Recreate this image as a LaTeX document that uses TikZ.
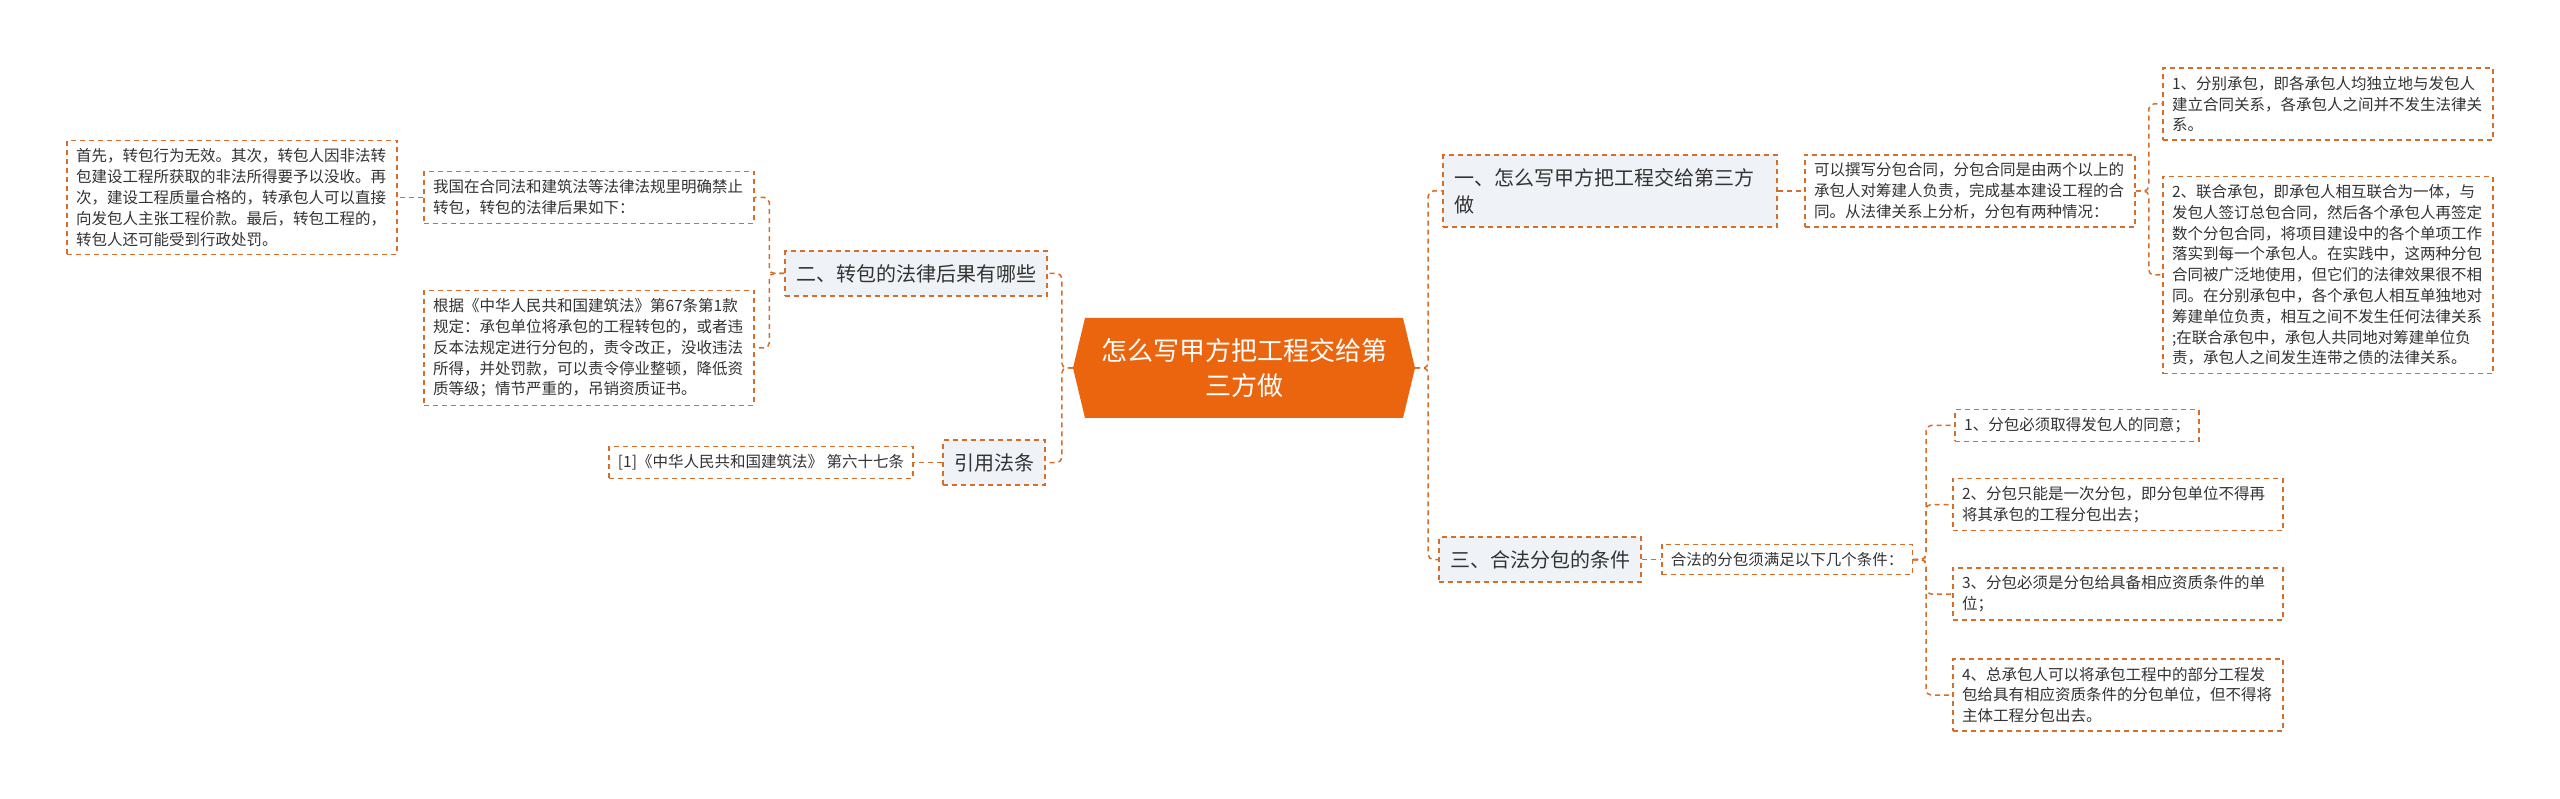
\documentclass[tikz,border=0pt]{standalone}
\usepackage{fontspec}
\setmainfont{Noto Sans CJK SC}
\definecolor{linea}{RGB}{213,110,43}
\definecolor{naranja}{RGB}{235,100,14}
\definecolor{gris}{RGB}{239,242,246}
\definecolor{texto}{RGB}{51,51,51}
\begin{document}
\begin{tikzpicture}[x=1pt,y=-1pt,
        hoja/.style={draw=linea, fill=white, line width=1.5pt, dash pattern=on 5pt off 4pt,
            inner xsep=9pt, inner ysep=8pt, align=left, text=texto,
            font=\fontsize{15.5}{20.8}\selectfont},
        hojaw/.style={hoja, text width=312pt},
        rama/.style={draw=linea, fill=gris, line width=1.5pt, dash pattern=on 5pt off 4pt,
            inner xsep=11pt, inner ysep=13pt, align=left, text=texto,
            font=\fontsize{20}{27}\selectfont},
        enlace/.style={draw=linea, line width=1.5pt, dash pattern=on 5pt off 4pt, rounded corners=5pt}]
        % Fondo
        \fill[white] (0,0) rectangle (2560,799);
        \useasboundingbox (0,0) rectangle (2560,799);
        % Nodo central
        \fill[naranja] (1073,368) -- (1085,318) -- (1403,318) -- (1415,368) -- (1403,418) -- (1085,418) -- cycle;
        \node[minimum width=342pt, minimum height=100pt, align=center, text=white,
            font=\fontsize{26}{35}\selectfont] (centro) at (1244,368) {怎么写甲方把工程交给第\\三方做};
        % Rama izquierda
        \node[rama] (transf) at (916,273.5) {二、转包的法律后果有哪些};
        \node[rama] (cita) at (994,462.5) {引用法条};
        \node[hojaw] (prohibe) at (589,197.5) {我国在合同法和建筑法等法律法规里明确禁止\\转包，转包的法律后果如下：};
        \node[hojaw] (efectos) at (232,197.5) {首先，转包行为无效。其次，转包人因非法转\\包建设工程所获取的非法所得要予以没收。再\\次，建设工程质量合格的，转承包人可以直接\\向发包人主张工程价款。最后，转包工程的，\\转包人还可能受到行政处罚。};
        \node[hojaw] (articulo) at (589,348) {根据《中华人民共和国建筑法》第67条第1款\\规定：承包单位将承包的工程转包的，或者违\\反本法规定进行分包的，责令改正，没收违法\\所得，并处罚款，可以责令停业整顿，降低资\\质等级；情节严重的，吊销资质证书。};
        \node[hoja] (ley) at (761,462.5) {[1]《中华人民共和国建筑法》 第六十七条};
        % Rama derecha
        \node[rama, text width=312pt] (como) at (1610,191) {一、怎么写甲方把工程交给第三方\\做};
        \node[rama] (requisitos) at (1540,559.5) {三、合法分包的条件};
        \node[hojaw] (contrato) at (1970,191) {可以撰写分包合同，分包合同是由两个以上的\\承包人对筹建人负责，完成基本建设工程的合\\同。从法律关系上分析，分包有两种情况：};
        \node[hojaw] (separado) at (2328,104) {1、分别承包，即各承包人均独立地与发包人\\建立合同关系，各承包人之间并不发生法律关\\系。};
        \node[hojaw] (conjunto) at (2328,275) {2、联合承包，即承包人相互联合为一体，与\\发包人签订总包合同，然后各个承包人再签定\\数个分包合同，将项目建设中的各个单项工作\\落实到每一个承包人。在实践中，这两种分包\\合同被广泛地使用，但它们的法律效果很不相\\同。在分别承包中，各个承包人相互单独地对\\筹建单位负责，相互之间不发生任何法律关系\\;在联合承包中，承包人共同地对筹建单位负\\责，承包人之间发生连带之债的法律关系。};
        \node[hoja] (condic) at (1787,559.5) {合法的分包须满足以下几个条件：};
        \node[hoja] (cuno) at (2077,425.5) {1、分包必须取得发包人的同意；};
        \node[hojaw] (cdos) at (2118,504.5) {2、分包只能是一次分包，即分包单位不得再\\将其承包的工程分包出去；};
        \node[hojaw] (ctres) at (2118,594) {3、分包必须是分包给具备相应资质条件的单\\位；};
        \node[hojaw] (ccuatro) at (2118,695) {4、总承包人可以将承包工程中的部分工程发\\包给具有相应资质条件的分包单位，但不得将\\主体工程分包出去。};
        % Conectores
        \draw[enlace] (centro.west) -- ++(-11,0) |- (transf.east);
        \draw[enlace] (centro.west) -- ++(-11,0) |- (cita.east);
        \draw[enlace] (transf.west) -- ++(-15,0) |- (prohibe.east);
        \draw[enlace] (transf.west) -- ++(-15,0) |- (articulo.east);
        \draw[enlace] (prohibe.west) -- (efectos.east);
        \draw[enlace] (cita.west) -- (ley.east);
        \draw[enlace] (centro.east) -- ++(13,0) |- (como.west);
        \draw[enlace] (centro.east) -- ++(13,0) |- (requisitos.west);
        \draw[enlace] (como.east) -- (contrato.west);
        \draw[enlace] (contrato.east) -- ++(13,0) |- (separado.west);
        \draw[enlace] (contrato.east) -- ++(13,0) |- (conjunto.west);
        \draw[enlace] (requisitos.east) -- (condic.west);
        \foreach \hijo in {cuno,cdos,ctres,ccuatro}
            \draw[enlace] (condic.east) -- ++(13,0) |- (\hijo.west);
\end{tikzpicture}
\end{document}
